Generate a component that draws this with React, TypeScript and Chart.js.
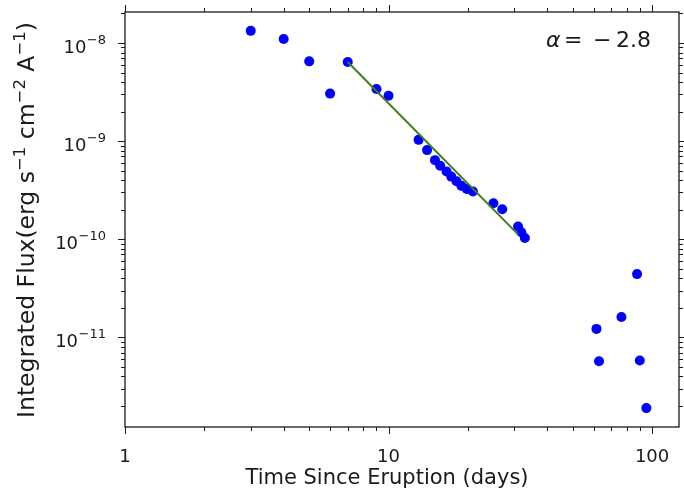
import React, { useEffect, useRef } from 'react';
import { Chart, registerables } from 'chart.js';

Chart.register(...registerables);

// Observations: time since eruption (days) and integrated flux
const days = [3, 4, 5, 6, 7, 9, 10, 13, 14, 15, 15.7, 16.6, 17.3, 18.1, 18.9, 19.8, 20.9, 25, 27, 31, 31.9, 32.9, 61.5, 62.9, 76.5, 87.7, 89.8, 95.1];
const flux = [1.33e-8, 1.1e-8, 6.5e-9, 3.05e-9, 6.4e-9, 3.4e-9, 2.9e-9, 1.03e-9, 8.1e-10, 6.4e-10, 5.6e-10, 4.9e-10, 4.35e-10, 3.9e-10, 3.5e-10, 3.25e-10, 3.06e-10, 2.33e-10, 2.02e-10, 1.35e-10, 1.18e-10, 1.03e-10, 1.22e-11, 5.7e-12, 1.61e-11, 4.41e-11, 5.8e-12, 1.9e-12];

// Power-law fit segment
const fitDays = [7, 31];
const fitFlux = [6.4e-9, 1.12e-10];

// Axis ranges
const xRange = [1, 126.5];
const yRange = [1.22e-12, 2.07e-8];

// Tick labels
const xTickValues = [1, 10, 100];
const xTickLabels = ['1', '10', '100'];
const yTickValues = [1e-8, 1e-9, 1e-10, 1e-11];
const yTickBases = ['10', '10', '10', '10'];
const yTickExponents = ['\u22128', '\u22129', '\u221210', '\u221211'];

const xTitle = 'Time Since Eruption (days)';
// y title pieces: [text, isSuperscript]
const yTitleParts: [string, boolean][] = [
  ['Integrated Flux(erg s', false],
  ['\u22121', true],
  [' cm', false],
  ['\u22122', true],
  [' A', false],
  ['\u22121', true],
  [')', false],
];
const annotationParts = ['\u03B1', '=', '\u2212', '2.8'];

const TEXT = '#1a1a1a';
const FONT = "'DejaVu Sans', sans-serif";

function labelFor(values: number[], labels: string[], v: number): string {
  for (let i = 0; i < values.length; i++) {
    if (Math.abs(v - values[i]) / values[i] < 1e-6) return labels[i];
  }
  return '';
}

function logTicks(min: number, max: number): { v: number; major: boolean }[] {
  const out: { v: number; major: boolean }[] = [];
  const e0 = Math.floor(Math.log10(min));
  const e1 = Math.ceil(Math.log10(max));
  for (let e = e0; e <= e1; e++) {
    for (let m = 1; m <= 9; m++) {
      const v = m * Math.pow(10, e);
      if (v >= min * (1 - 1e-9) && v <= max * (1 + 1e-9)) out.push({ v, major: m === 1 });
    }
  }
  return out;
}

const framePlugin = {
  id: 'frame',
  afterDraw(chart: any) {
    const { ctx, chartArea } = chart;
    const { left, right, top, bottom } = chartArea;
    const xs = chart.scales.x;
    const ys = chart.scales.y;
    ctx.save();
    ctx.strokeStyle = TEXT;
    ctx.lineWidth = 1;
    const major = 7;
    const minor = 4;
    ctx.beginPath();
    for (const t of logTicks(xs.min, xs.max)) {
      const px = Math.round(xs.getPixelForValue(t.v)) + 0.5;
      const len = t.major ? major : minor;
      ctx.moveTo(px, bottom);
      ctx.lineTo(px, bottom + len);
      ctx.moveTo(px, top);
      ctx.lineTo(px, top - len);
    }
    for (const t of logTicks(ys.min, ys.max)) {
      const py = Math.round(ys.getPixelForValue(t.v)) + 0.5;
      const len = t.major ? major : minor;
      ctx.moveTo(left, py);
      ctx.lineTo(left - len, py);
      ctx.moveTo(right, py);
      ctx.lineTo(right + len, py);
    }
    ctx.stroke();
    ctx.lineWidth = 1.3;
    ctx.strokeRect(left, top, right - left, bottom - top);

    ctx.fillStyle = TEXT;
    ctx.textBaseline = 'alphabetic';

    // y tick labels with superscript exponents
    const baseFont = `18px ${FONT}`;
    const supFont = `13px ${FONT}`;
    for (let i = 0; i < yTickValues.length; i++) {
      const py = ys.getPixelForValue(yTickValues[i]);
      const xRight = left - 19;
      ctx.font = supFont;
      const ew = ctx.measureText(yTickExponents[i]).width;
      ctx.textAlign = 'right';
      ctx.fillText(yTickExponents[i], xRight, py + 0.5);
      ctx.font = baseFont;
      ctx.fillText(yTickBases[i], xRight - ew - 0.5, py + 9.5);
    }

    // x title
    ctx.font = `21px ${FONT}`;
    ctx.textAlign = 'center';
    ctx.fillText(xTitle, left + 262, 484);

    // y title (rotated), with superscripts
    const mainF = `23.5px ${FONT}`;
    const supF = `16.5px ${FONT}`;
    let total = 0;
    const widths: number[] = [];
    for (const [t, sup] of yTitleParts) {
      ctx.font = sup ? supF : mainF;
      const w = ctx.measureText(t).width;
      widths.push(w);
      total += w;
    }
    ctx.save();
    ctx.translate(34, 220);
    ctx.rotate(-Math.PI / 2);
    ctx.textAlign = 'left';
    let cx = -total / 2;
    yTitleParts.forEach(([t, sup], i) => {
      ctx.font = sup ? supF : mainF;
      ctx.fillText(t, cx, sup ? -9 : 0);
      cx += widths[i];
    });
    ctx.restore();

    // annotation alpha = -2.8
    const yBase = top + 35;
    ctx.textAlign = 'left';
    ctx.font = `italic 22px ${FONT}`;
    ctx.fillText(annotationParts[0], right - 133, yBase);
    ctx.font = `22px ${FONT}`;
    ctx.fillText(annotationParts[1], right - 115, yBase);
    ctx.fillText(annotationParts[2], right - 86, yBase);
    ctx.fillText(annotationParts[3], right - 63, yBase);
    ctx.restore();
  },
};

function zeroPad(s: any) {
  s.paddingTop = 0;
  s.paddingBottom = 0;
  s.paddingLeft = 0;
  s.paddingRight = 0;
}

export default function App() {
  const ref = useRef<HTMLCanvasElement | null>(null);

  useEffect(() => {
    if (!ref.current) return;
    Chart.defaults.font.family = FONT;
    Chart.defaults.color = TEXT;
    const chart = new Chart(ref.current, {
      type: 'scatter',
      data: {
        datasets: [
          {
            type: 'line',
            label: 'fit',
            data: fitDays.map((d, i) => ({ x: d, y: fitFlux[i] })),
            borderColor: '#3f7d1f',
            borderWidth: 2,
            pointRadius: 0,
            fill: false,
            order: 0,
          } as any,
          {
            type: 'scatter',
            label: 'data',
            data: days.map((d, i) => ({ x: d, y: flux[i] })),
            backgroundColor: '#0000ff',
            borderWidth: 0,
            pointRadius: 5,
            order: 1,
          },
        ],
      },
      options: {
        animation: false,
        responsive: true,
        maintainAspectRatio: false,
        layout: { padding: { top: 12, right: 4, left: 0, bottom: 0 } },
        plugins: { legend: { display: false }, tooltip: { enabled: false } },
        scales: {
          x: {
            type: 'logarithmic',
            min: xRange[0],
            max: xRange[1],
            grid: { display: false },
            border: { display: false },
            ticks: {
              autoSkip: false,
              maxRotation: 0,
              padding: 12,
              font: { size: 18 },
              color: TEXT,
              callback: (v: any) => labelFor(xTickValues, xTickLabels, Number(v)),
            },
            title: { display: false },
            afterFit: (s: any) => { s.height = 70; zeroPad(s); },
          },
          y: {
            type: 'logarithmic',
            min: yRange[0],
            max: yRange[1],
            grid: { display: false },
            border: { display: false },
            ticks: { display: false },
            title: { display: false },
            afterFit: (s: any) => { s.width = 125; zeroPad(s); },
          },
        },
      },
      plugins: [framePlugin],
    });
    return () => chart.destroy();
  }, []);

  return (
    <div style={{ position: 'fixed', left: 0, top: 0, width: 684, height: 497, background: '#fff' }}>
      <canvas ref={ref} />
    </div>
  );
}
